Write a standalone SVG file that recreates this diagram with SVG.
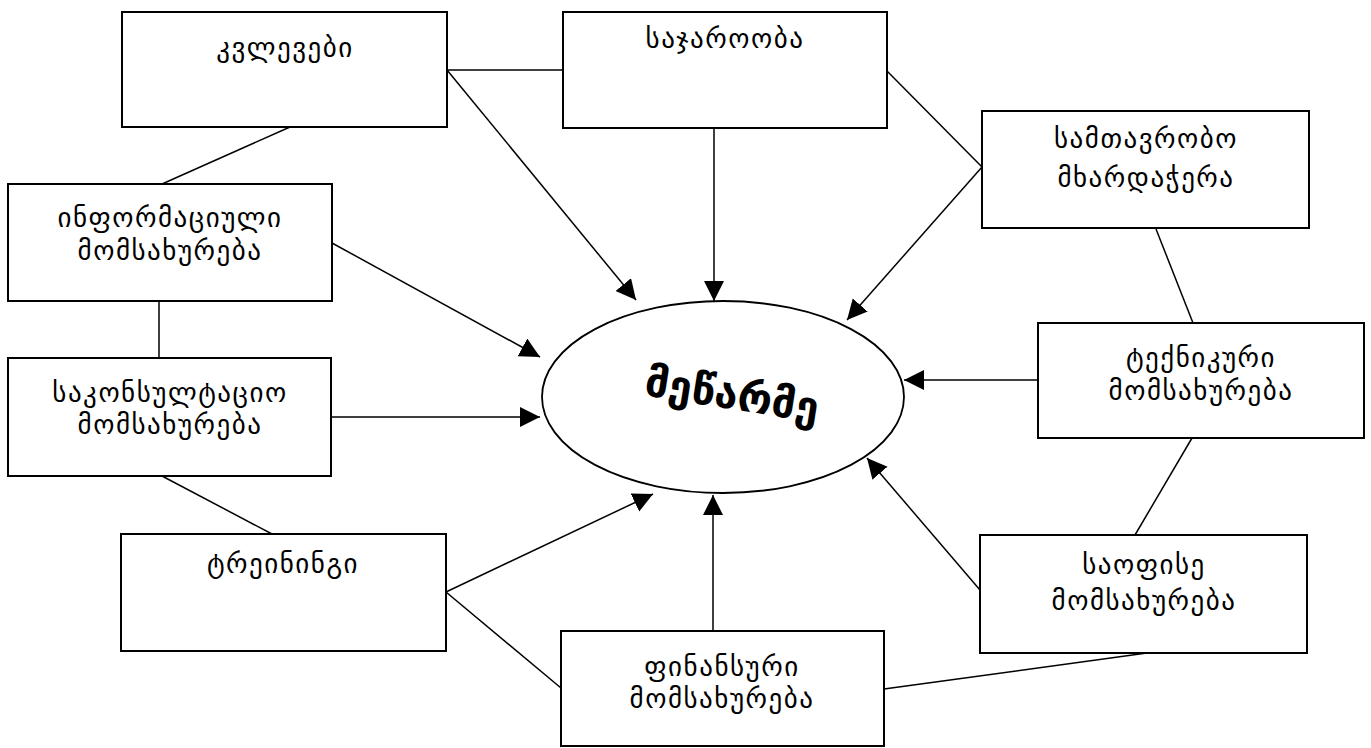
<svg xmlns="http://www.w3.org/2000/svg" width="1371" height="748" viewBox="0 0 1371 748">
<style>
.box{fill:#fff;stroke:#000;stroke-width:2}
.t{font-family:"DejaVu Sans","Noto Sans",sans-serif;font-size:27px;letter-spacing:1.5px;text-anchor:middle;fill:#000}
.c{stroke:#000;stroke-width:1.5;fill:none}
.main{font-family:"DejaVu Sans","Noto Sans",sans-serif;font-size:42px;font-weight:bold;text-anchor:middle;fill:#000}
</style>
<defs>
<marker id="ah" markerUnits="userSpaceOnUse" markerWidth="22" markerHeight="22" refX="20" refY="10" orient="auto">
<path d="M0,0 L20,10 L0,20 z" fill="#000"/>
</marker>
</defs>
<rect width="1371" height="748" fill="#fff"/>
<g id="connectors">
<line class="c" x1="447" y1="70" x2="563" y2="70"/>
<line class="c" x1="290" y1="127" x2="162" y2="184"/>
<line class="c" x1="159" y1="301" x2="159" y2="358"/>
<line class="c" x1="162" y1="476" x2="272" y2="534"/>
<line class="c" x1="446" y1="592" x2="561" y2="688"/>
<line class="c" x1="884" y1="689" x2="1147" y2="653"/>
<line class="c" x1="1192" y1="438" x2="1135" y2="535"/>
<line class="c" x1="1156" y1="229" x2="1193" y2="323"/>
<line class="c" x1="887" y1="71" x2="982" y2="167"/>
<line class="c" x1="447" y1="70" x2="636" y2="300" marker-end="url(#ah)"/>
<line class="c" x1="714" y1="128" x2="714" y2="301" marker-end="url(#ah)"/>
<line class="c" x1="982" y1="167" x2="847" y2="320" marker-end="url(#ah)"/>
<line class="c" x1="332" y1="243" x2="540" y2="357" marker-end="url(#ah)"/>
<line class="c" x1="331" y1="417" x2="540" y2="417" marker-end="url(#ah)"/>
<line class="c" x1="1038" y1="380" x2="904" y2="380" marker-end="url(#ah)"/>
<line class="c" x1="446" y1="592" x2="653" y2="494" marker-end="url(#ah)"/>
<line class="c" x1="713" y1="631" x2="713" y2="495" marker-end="url(#ah)"/>
<line class="c" x1="980" y1="590" x2="867" y2="458" marker-end="url(#ah)"/>
</g>
<g id="n-center">
<ellipse cx="723" cy="397" rx="181" ry="96" fill="#fff" stroke="#000" stroke-width="1.8"/>
<text class="main" x="732" y="409" transform="rotate(9 732 395)">მეწარმე</text>
</g>
<g id="n-kvlevebi">
<rect class="box" x="122" y="12" width="325" height="115"/>
<text class="t" x="285" y="57">კვლევები</text>
</g>
<g id="n-sajarooba">
<rect class="box" x="563" y="12" width="324" height="116"/>
<text class="t" x="725" y="48">საჯაროობა</text>
</g>
<g id="n-samtavrobo">
<rect class="box" x="982" y="111" width="327" height="117"/>
<text class="t" x="1146" y="148">სამთავრობო</text>
<text class="t" x="1146" y="187">მხარდაჭერა</text>
</g>
<g id="n-informaciuli">
<rect class="box" x="8" y="184" width="324" height="117"/>
<text class="t" x="170" y="227">ინფორმაციული</text>
<text class="t" x="170" y="260">მომსახურება</text>
</g>
<g id="n-sakonsultacio">
<rect class="box" x="8" y="358" width="323" height="118"/>
<text class="t" x="170" y="402">საკონსულტაციო</text>
<text class="t" x="170" y="434">მომსახურება</text>
</g>
<g id="n-treiningi">
<rect class="box" x="121" y="534" width="325" height="117"/>
<text class="t" x="283" y="573">ტრეინინგი</text>
</g>
<g id="n-finansuri">
<rect class="box" x="561" y="631" width="323" height="115"/>
<text class="t" x="722" y="676">ფინანსური</text>
<text class="t" x="722" y="708">მომსახურება</text>
</g>
<g id="n-teqnikuri">
<rect class="box" x="1038" y="323" width="326" height="115"/>
<text class="t" x="1201" y="367">ტექნიკური</text>
<text class="t" x="1201" y="400">მომსახურება</text>
</g>
<g id="n-saofise">
<rect class="box" x="980" y="535" width="327" height="118"/>
<text class="t" x="1144" y="574">საოფისე</text>
<text class="t" x="1144" y="610">მომსახურება</text>
</g>
</svg>
